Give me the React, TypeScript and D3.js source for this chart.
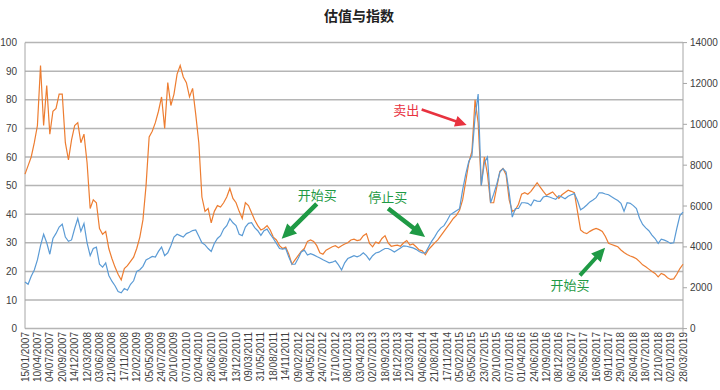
import React, { useRef, useEffect } from 'react';
import * as d3 from 'd3';

// x labels, one every 4 points
const dateLabels = [
  '15/01/2007', '10/04/2007', '04/07/2007', '20/09/2007', '14/12/2007', '12/03/2008',
  '03/06/2008', '21/08/2008', '17/11/2008', '12/02/2009', '05/05/2009', '24/07/2009',
  '20/10/2009', '07/01/2010', '02/04/2010', '28/06/2010', '14/09/2010', '13/12/2010',
  '09/03/2011', '31/05/2011', '18/08/2011', '14/11/2011', '09/02/2012', '04/05/2012',
  '24/07/2012', '17/10/2012', '08/01/2013', '03/04/2013', '02/07/2013', '18/09/2013',
  '16/12/2013', '12/03/2014', '04/06/2014', '21/08/2014', '17/11/2014', '05/02/2015',
  '05/05/2015', '23/07/2015', '20/10/2015', '07/01/2016', '01/04/2016', '24/06/2016',
  '12/09/2016', '08/12/2016', '06/03/2017', '26/05/2017', '16/08/2017', '09/11/2017',
  '29/01/2018', '26/04/2018', '18/07/2018', '12/10/2018', '02/01/2019', '28/03/2019',
];

// valuation (left axis)
const valuation = [
  54, 57, 60, 65, 71, 92, 71, 85, 68, 76, 77, 82, 82, 65, 59, 66, 71, 72, 65, 68,
  58, 42, 45, 44, 35, 33, 34, 28, 24.5, 21.5, 19, 17, 21, 22, 23.5, 25, 28, 32, 38, 50,
  67, 69, 72, 76, 81, 70, 86, 78, 82, 89, 92, 88, 86, 81, 84, 75, 65, 46, 41, 42,
  37, 41, 43, 42.5, 44, 46, 49, 45.5, 44, 41, 38.5, 44, 43, 40.5, 38, 36, 34.5, 35, 36, 34.5,
  32, 31, 29, 28, 28.5, 26, 22.5, 24, 25.5, 27, 28, 30.5, 31, 30.5, 29, 26.5, 26, 27.4, 28, 28.6,
  29, 28.3, 29, 29.6, 30, 31, 31.3, 30.8, 31, 32.5, 33.2, 29.8, 28.6, 30.3, 29.8, 31.5, 32.5, 30, 28.8, 29,
  29.2, 28.8, 30, 30.8, 29.2, 29.6, 28.6, 27.5, 27.2, 25.8, 27.6, 28.8, 30, 31, 32.5, 34, 35.5, 37, 38.5, 39.6,
  41.4, 45, 51.5, 58, 62, 80, 72, 50, 60, 54, 44, 44, 49.5, 55, 56, 53.8, 45, 41, 41.5, 43.5,
  47, 47.5, 47, 48, 49.5, 51, 49.5, 48, 46.6, 47.2, 47.8, 46.5, 45.5, 46.8, 47.6, 48.4, 48, 47.5, 41, 34.5,
  33.6, 33.2, 34, 34.6, 35, 34.6, 34, 32.2, 29.8, 29.4, 29, 28.6, 27.5, 26.6, 25.9, 25.4, 25, 24.4, 23.4, 22.3,
  21.6, 20.8, 20, 19.3, 18.1, 19.3, 18.8, 17.8, 17.2, 17.4, 19, 21, 22.5,
];

// index level (right axis)
const indexLevel = [
  2280, 2170, 2560, 2870, 3360, 4060, 4620, 4200, 3640, 4410, 4660, 4970, 5110, 4480, 4270, 4340, 4900, 5390, 4760, 5140,
  4200, 3570, 3920, 3990, 3150, 3010, 3220, 2600, 2320, 2100, 1820, 1750, 1960, 1880, 2170, 2340, 2800, 2880, 3050, 3360,
  3440, 3530, 3500, 3780, 3990, 3570, 3710, 4060, 4480, 4620, 4550, 4480, 4650, 4720, 4800, 4830, 4520, 4200, 4100, 3920,
  3780, 4170, 4410, 4550, 4870, 5040, 5380, 5180, 5040, 4620, 4550, 4970, 5150, 5180, 4940, 4790, 4560, 4790, 4870, 4620,
  4410, 4170, 3920, 3890, 3920, 3500, 3150, 3150, 3430, 3750, 3840, 3600, 3670, 3610, 3530, 3460, 3370, 3300, 3220, 3250,
  3320, 3120, 2870, 3220, 3430, 3500, 3570, 3510, 3580, 3710, 3570, 3360, 3570, 3700, 3740, 3840, 3920, 3920, 3850, 3750,
  3850, 3950, 4050, 4030, 3990, 3950, 3880, 3770, 3710, 3710, 3990, 4270, 4490, 4750, 4930, 5040, 5290, 5570, 5670, 5770,
  5870, 6790, 7560, 8190, 8470, 10360, 11480, 7000, 8120, 8400, 6160, 6580, 7070, 7660, 7830, 7670, 6650, 5460, 5880, 5880,
  6160, 6160, 6130, 6020, 6300, 6240, 6230, 6440, 6480, 6440, 6380, 6330, 6500, 6440, 6360, 6480, 6550, 6610, 6270, 5820,
  5920, 6050, 6200, 6300, 6410, 6650, 6640, 6590, 6550, 6450, 6360, 6270, 6130, 5740, 6160, 6130, 6020, 5870, 5400, 5100,
  4930, 4790, 4580, 4410, 4170, 4380, 4330, 4260, 4170, 4200, 4900, 5530, 5700,
];

const leftTicks = [0, 10, 20, 30, 40, 50, 60, 70, 80, 90, 100];
const rightTicks = [0, 2000, 4000, 6000, 8000, 10000, 12000, 14000];

// annotations in data units: [point index, left-axis value]
const notes = [
  { text: '卖出', color: '#e8323f', at: [127, 74.8], anchor: 'end', from: [127.8, 76.6], to: [142.3, 71.2], shaft: 2.6, head: 11 },
  { text: '开始买', color: '#1f9a45', at: [94.2, 44.9], anchor: 'middle', from: [94.0, 43.6], to: [82.7, 31.4], shaft: 4.5, head: 14 },
  { text: '停止买', color: '#1f9a45', at: [116.9, 44.3], anchor: 'middle', from: [117.0, 42.0], to: [128.9, 32.0], shaft: 4.5, head: 14 },
  { text: '开始买', color: '#1f9a45', at: [175.6, 13.4], anchor: 'middle', from: [178.8, 18.6], to: [186.9, 28.3], shaft: 4, head: 13 },
];

const arrowPath = (x1: number, y1: number, x2: number, y2: number, w: number, hw: number) => {
  const len = Math.hypot(x2 - x1, y2 - y1);
  const ux = (x2 - x1) / len;
  const uy = (y2 - y1) / len;
  const nx = -uy;
  const ny = ux;
  const hl = hw * 1.05;
  const bx = x2 - ux * hl;
  const by = y2 - uy * hl;
  const p = [
    [x1 + (nx * w) / 2, y1 + (ny * w) / 2],
    [bx + (nx * w) / 2, by + (ny * w) / 2],
    [bx + (nx * hw) / 2, by + (ny * hw) / 2],
    [x2, y2],
    [bx - (nx * hw) / 2, by - (ny * hw) / 2],
    [bx - (nx * w) / 2, by - (ny * w) / 2],
    [x1 - (nx * w) / 2, y1 - (ny * w) / 2],
  ];
  return 'M' + p.map((d) => d.join(',')).join('L') + 'Z';
};

const Chart = () => {
  const chartRef = useRef<SVGSVGElement>(null);

  useEffect(() => {
    drawChart();
  }, []);

  const drawChart = () => {
    const width = 720;
    const height = 390;
    const left = 25;
    const right = 683;
    const top = 42.6;
    const bottom = 328.6;

    const svg = d3.select(chartRef.current);
    svg.selectAll('*').remove();
    svg.attr('width', width).attr('height', height);

    const x = d3.scaleLinear().domain([0, valuation.length - 1]).range([left, right]);
    const yL = d3.scaleLinear().domain([0, 100]).range([bottom, top]);
    const yR = d3.scaleLinear().domain([0, 14000]).range([bottom, top]);
    const step = (valuation.length - 1) / (dateLabels.length - 1);

    svg.append('rect').attr('width', width).attr('height', height).attr('fill', '#fff');

    // title
    svg
      .append('text')
      .attr('x', 359)
      .attr('y', 21)
      .attr('text-anchor', 'middle')
      .style('font-family', '"Noto Sans CJK SC", sans-serif')
      .style('font-weight', 'bold')
      .style('font-size', '14px')
      .attr('fill', '#222')
      .text('估值与指数');

    // gridlines
    svg
      .append('g')
      .selectAll('line')
      .data(leftTicks)
      .enter()
      .append('line')
      .attr('x1', left)
      .attr('x2', right)
      .attr('y1', (d) => yL(d))
      .attr('y2', (d) => yL(d))
      .attr('stroke', '#b5b5b5')
      .attr('stroke-width', 1.5);

    svg.append('line').attr('x1', left).attr('x2', left).attr('y1', top).attr('y2', bottom)
      .attr('stroke', '#a6a6a6').attr('stroke-width', 1);
    svg.append('line').attr('x1', right).attr('x2', right).attr('y1', top).attr('y2', bottom + 3)
      .attr('stroke', '#a6a6a6').attr('stroke-width', 1);

    const font = '"Liberation Sans", Arial, sans-serif';

    // left axis labels
    svg
      .append('g')
      .selectAll('text')
      .data(leftTicks)
      .enter()
      .append('text')
      .attr('x', 17)
      .attr('y', (d) => yL(d))
      .attr('dy', '0.35em')
      .attr('text-anchor', 'end')
      .style('font-family', font)
      .style('font-size', '10px')
      .attr('fill', '#404040')
      .text((d) => d);

    // right axis ticks + labels
    const rg = svg.append('g');
    rg.selectAll('line')
      .data(rightTicks)
      .enter()
      .append('line')
      .attr('x1', right)
      .attr('x2', right + 4)
      .attr('y1', (d) => yR(d))
      .attr('y2', (d) => yR(d))
      .attr('stroke', '#a6a6a6');
    rg.selectAll('text')
      .data(rightTicks)
      .enter()
      .append('text')
      .attr('x', 690)
      .attr('y', (d) => yR(d))
      .attr('dy', '0.35em')
      .style('font-family', font)
      .style('font-size', '10px')
      .attr('fill', '#404040')
      .text((d) => d);

    // rotated date labels
    svg
      .append('g')
      .selectAll('text')
      .data(dateLabels)
      .enter()
      .append('text')
      .attr('transform', (d, i) => `translate(${x(i * step)},332) rotate(-90)`)
      .attr('dy', '0.35em')
      .attr('text-anchor', 'end')
      .style('font-family', font)
      .style('font-size', '10px')
      .attr('fill', '#404040')
      .text((d) => d);

    // series
    const lineL = d3.line<number>().x((d, i) => x(i)).y((d) => yL(d));
    const lineR = d3.line<number>().x((d, i) => x(i)).y((d) => yR(d));

    svg.append('path').datum(valuation).attr('d', lineL)
      .attr('fill', 'none').attr('stroke', '#ed7d31').attr('stroke-width', 1.2);
    svg.append('path').datum(indexLevel).attr('d', lineR)
      .attr('fill', 'none').attr('stroke', '#5b9bd5').attr('stroke-width', 1.2);

    // annotations
    const ag = svg.append('g');
    notes.forEach((n) => {
      ag.append('path')
        .attr('d', arrowPath(x(n.from[0]), yL(n.from[1]), x(n.to[0]), yL(n.to[1]), n.shaft, n.head))
        .attr('fill', n.color);
      ag.append('text')
        .attr('x', x(n.at[0]))
        .attr('y', yL(n.at[1]))
        .attr('text-anchor', n.anchor)
        .style('font-family', '"Noto Sans CJK SC", sans-serif')
        .style('font-size', '13px')
        .attr('fill', n.color)
        .text(n.text);
    });
  };

  return <svg ref={chartRef} style={{ position: 'absolute', left: 0, top: 0 }}></svg>;
};

export default function App() {
  return <Chart />;
}
